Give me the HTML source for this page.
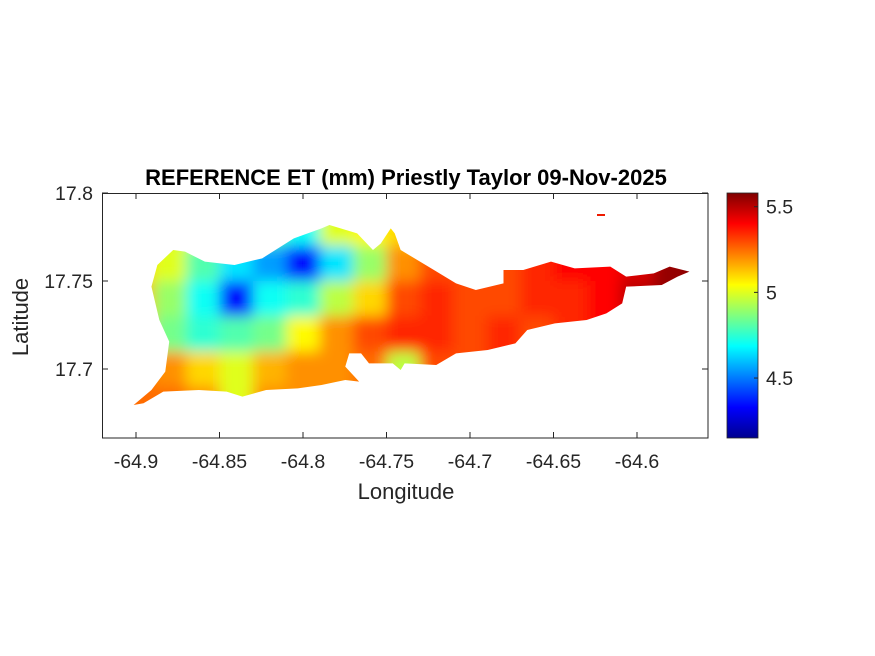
<!DOCTYPE html>
<html><head><meta charset="utf-8"><style>
body{margin:0;background:#fff}
svg{display:block;font-family:"Liberation Sans",Arial,sans-serif}
</style></head><body>
<svg id="chart" width="875" height="656">
<defs>
<filter id="blur" x="-20%" y="-20%" width="140%" height="140%"><feGaussianBlur stdDeviation="7"/></filter>
<clipPath id="islandClip"><polygon id="islandPoly" transform="translate(100,190) scale(0.3956,0.3333)" points="85,645 130,600 165,545 175,455 150,390 130,290 145,225 185,180 215,185 265,215 340,225 410,205 490,145 560,115 580,105 650,130 690,180 710,160 735,115 745,130 760,180 830,230 900,280 950,300 1020,280 1020,240 1070,240 1140,215 1200,235 1290,230 1330,260 1400,250 1440,230 1490,245 1460,260 1420,285 1330,290 1320,340 1280,370 1230,390 1150,400 1080,420 1050,460 980,480 900,490 850,525 770,520 760,540 740,520 680,520 660,490 630,490 620,530 655,575 620,570 560,585 500,595 420,600 360,620 320,605 250,600 160,605 110,640"/></clipPath>
<linearGradient id="jet" x1="0" y1="1" x2="0" y2="0">
<stop offset="0" stop-color="#00008f"/><stop offset="0.125" stop-color="#0000ff"/><stop offset="0.375" stop-color="#00ffff"/><stop offset="0.625" stop-color="#ffff00"/><stop offset="0.875" stop-color="#ff0000"/><stop offset="1" stop-color="#800000"/>
</linearGradient>
</defs>
<text x="406" y="185" text-anchor="middle" font-size="22" font-weight="bold" fill="#000">REFERENCE ET (mm) Priestly Taylor 09-Nov-2025</text>
<g id="heat" clip-path="url(#islandClip)"><g id="cells" filter="url(#blur)"></g></g>
<rect x="597" y="214" width="8" height="2" fill="#ee1a00"/>
<rect x="102.5" y="193.5" width="605.5" height="244.5" fill="none" stroke="#262626" stroke-width="1"/>
<g id="xticks"></g>
<g id="yticks"></g>
<text x="406" y="499" text-anchor="middle" font-size="22" fill="#262626">Longitude</text>
<text transform="translate(28,317) rotate(-90)" text-anchor="middle" font-size="22" fill="#262626">Latitude</text>
<rect x="727" y="193" width="31" height="245" fill="url(#jet)" stroke="#262626" stroke-width="0.8"/>
<g id="cticks"></g>
</svg>
<script>
const lons=[-64.90,-64.88,-64.86,-64.84,-64.82,-64.80,-64.78,-64.76,-64.74,-64.72,-64.70,-64.68,-64.66,-64.64,-64.62,-64.60,-64.58,-64.56];
const lats=[17.78,17.76,17.74,17.72,17.70,17.68];
const row0=[5.0,5.0,5.0,4.9,4.8,4.7,5.0,5.05,5.1,5.2,5.3,5.3,5.3,5.4,5.4,5.4,5.5,5.5];
const row1=[5.1,5.0,4.8,4.65,4.55,4.35,4.65,4.9,5.2,5.3,5.3,5.3,5.35,5.4,5.4,5.45,5.55,5.58];
const row2=[5.15,4.9,4.7,4.35,4.7,4.75,4.95,5.1,5.3,5.35,5.3,5.3,5.35,5.35,5.4,5.5,5.55,5.55];
const row3=[5.2,4.85,4.75,4.8,4.85,5.05,5.2,5.3,5.35,5.35,5.3,5.35,5.3,5.35,5.4,5.45,5.5,5.5];
const row4=[5.25,5.2,5.1,5.0,5.15,5.2,5.2,5.25,4.95,5.3,5.3,5.35,5.3,5.35,5.4,5.4,5.4,5.4];
const row5=[5.25,5.25,5.2,5.0,5.2,5.2,5.2,5.25,5.25,5.3,5.3,5.3,5.3,5.3,5.3,5.3,5.3,5.3];
const grid=[row0,row1,row2,row3,row4,row5];
const xTickVals=[-64.9,-64.85,-64.8,-64.75,-64.7,-64.65,-64.6];
const xTickLabels=["-64.9","-64.85","-64.8","-64.75","-64.7","-64.65","-64.6"];
const yTickVals=[17.8,17.75,17.7];
const yTickLabels=["17.8","17.75","17.7"];
const cTickVals=[5.5,5,4.5];
const cTickLabels=["5.5","5","4.5"];
const cMin=4.15,cMax=5.58;

const NS='http://www.w3.org/2000/svg';
const xs=v=>136+(v+64.9)/0.05*83.5;
const ys=v=>193+(17.8-v)/0.05*88;
const cs=v=>438-(v-cMin)/(cMax-cMin)*245;
function jet(v){
  let t=(v-cMin)/(cMax-cMin);t=Math.max(0,Math.min(1,t));
  const f=x=>Math.max(0,Math.min(1,x));
  const r=f(Math.min(4*t-1.5,-4*t+4.5)),g=f(Math.min(4*t-0.5,-4*t+3.5)),b=f(Math.min(4*t+0.5,-4*t+2.5));
  return `rgb(${Math.round(r*255)},${Math.round(g*255)},${Math.round(b*255)})`;
}
function mk(tag,attrs,parent){const e=document.createElementNS(NS,tag);for(const k in attrs)e.setAttribute(k,attrs[k]);parent.appendChild(e);return e;}
const cells=document.getElementById('cells');
const cw=xs(0.02)-xs(0), ch=ys(17.78)-ys(17.80);
grid.forEach((row,i)=>row.forEach((v,j)=>{
  const r=mk('rect',{x:xs(lons[j])-cw/2-(j===0?40:0),y:ys(lats[i])-ch/2-(i===0?40:0),width:cw+1+(j===0||j===lons.length-1?40:0),height:ch+1+(i===0||i===lats.length-1?40:0),fill:jet(v)},cells);
  
  
}));
const xt=document.getElementById('xticks');
xTickVals.forEach((v,i)=>{
  const x=xs(v);
  mk('line',{x1:x,x2:x,y1:438,y2:432,stroke:'#262626'},xt);
  mk('line',{x1:x,x2:x,y1:193,y2:199,stroke:'#262626'},xt);
  const t=mk('text',{x:x,y:468,'text-anchor':'middle','font-size':19.5,fill:'#262626'},xt);
  t.textContent=xTickLabels[i];
  
  
});
const yt=document.getElementById('yticks');
yTickVals.forEach((v,i)=>{
  const y=ys(v);
  mk('line',{x1:102,x2:108,y1:y,y2:y,stroke:'#262626'},yt);
  mk('line',{x1:708,x2:702,y1:y,y2:y,stroke:'#262626'},yt);
  const t=mk('text',{x:93,y:y+7,'text-anchor':'end','font-size':19.5,fill:'#262626'},yt);
  t.textContent=yTickLabels[i];
  
  
});
const ct=document.getElementById('cticks');
cTickVals.forEach((v,i)=>{
  const y=cs(v);
  mk('line',{x1:758,x2:754,y1:y,y2:y,stroke:'#262626'},ct);
  const t=mk('text',{x:766,y:y+7,'font-size':19.5,fill:'#262626'},ct);
  t.textContent=cTickLabels[i];
  
  
});
</script>
</body></html>
